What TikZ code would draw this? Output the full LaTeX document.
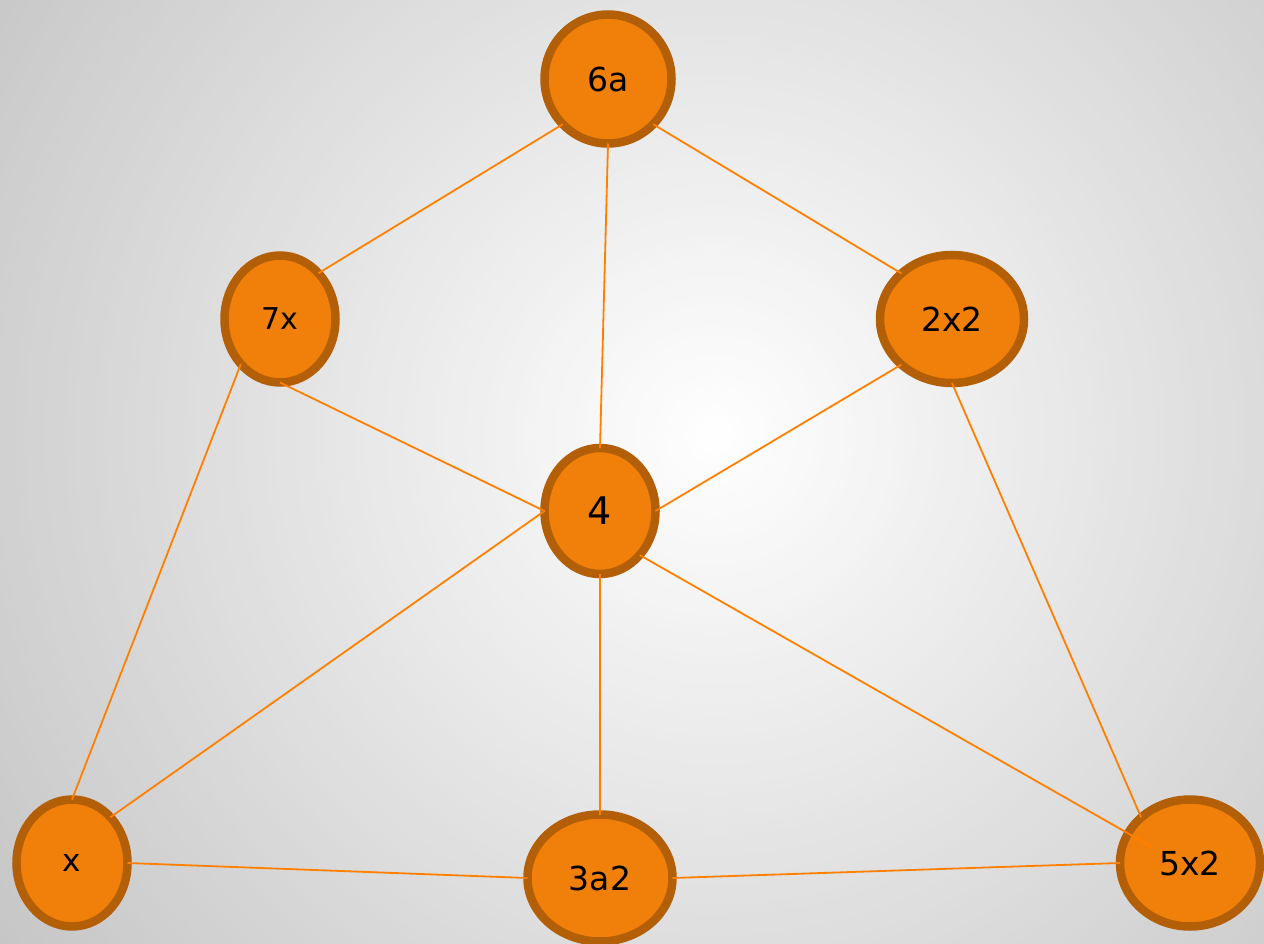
\documentclass[tikz,border=0pt]{standalone}
\usepackage{fontspec}
\setmainfont{DejaVu Sans}
\usetikzlibrary{shapes.geometric,calc}
\definecolor{nodefill}{RGB}{240,128,10}
\definecolor{nodeborder}{RGB}{178,95,8}
\definecolor{edgecol}{RGB}{255,128,0}
\definecolor{bgout}{RGB}{197,197,197}
\tikzset{
  vtx/.style={ellipse, draw=nodeborder, fill=nodefill, line width=8.5pt, outer sep=0pt, inner sep=0pt, text=black},
  edge/.style={draw=edgecol, line width=1.8pt},
}
\newcommand{\fs}[1]{\fontsize{#1}{#1}\selectfont}
\begin{document}
\begin{tikzpicture}[x=1pt,y=-1pt]
\useasboundingbox (0,0) rectangle (1264,944);
\begin{scope}
\clip (0,0) rectangle (1264,944);
\fill[bgout] (0,0) rectangle (1264,944);
\foreach \i in {0,...,89} {
  \pgfmathsetmacro\rr{900-10*\i}
  \pgfmathsetmacro\pp{100*\i/90}
  \fill[white!\pp!bgout] (715,435) circle (\rr pt);
}
\end{scope}
\node[vtx, minimum width=127pt, minimum height=129pt, font=\fs{33}] (6a) at (608,79) {6a};
\node[vtx, minimum width=111pt, minimum height=127pt, font=\fs{30}] (7x) at (280,319) {7x};
\node[vtx, minimum width=144pt, minimum height=128pt, font=\fs{33}] (2x2) at (952,319) {2x2};
\node[vtx, minimum width=111pt, minimum height=126pt, font=\fs{38}] (4) at (600,511) {4};
\node[vtx, minimum width=111pt, minimum height=127pt, font=\fs{31}] (x) at (72,863) {x};
\node[vtx, minimum width=145pt, minimum height=127pt, font=\fs{33}] (3a2) at (600,878) {3a2};
\node[vtx, minimum width=140pt, minimum height=127pt, font=\fs{33}] (5x2) at (1190,863) {5x2};
\coordinate (p5) at ([shift={(-38,-16)}]5x2.center);
\draw[edge] (6a.225) -- (7x.50);
\draw[edge] (6a.-45) -- (2x2.138);
\draw[edge] (6a.south) -- (4.north);
\draw[edge] (7x.south) -- (4.west);
\draw[edge] (2x2.222) -- (4.east);
\draw[edge] (7x.229) -- (x.north);
\draw[edge] (4.west) -- (x.50);
\draw[edge] (4.south) -- (3a2.north);
\draw[edge] (4.-48) -- (p5);
\draw[edge] (2x2.south) -- (5x2.137);
\draw[edge] (x.east) -- (3a2.west);
\draw[edge] (3a2.east) -- (5x2.west);
\end{tikzpicture}
\end{document}
